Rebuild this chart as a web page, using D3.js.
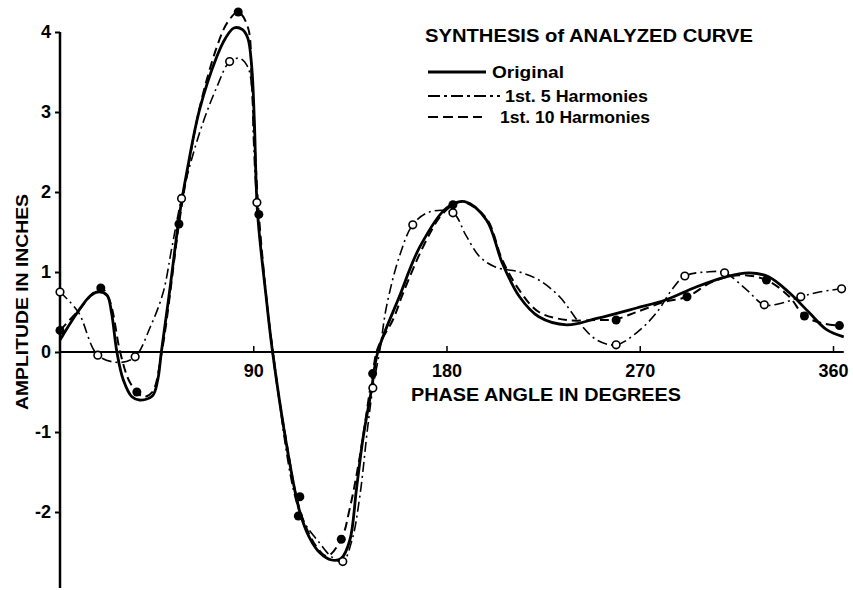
<!DOCTYPE html>
<html><head><meta charset="utf-8">
<script src="https://cdn.jsdelivr.net/npm/d3@7"></script>
<style>
html,body{margin:0;padding:0;background:#fff;}
svg{display:block;}
text{font-family:"Liberation Sans","DejaVu Sans",Arial,sans-serif;font-weight:bold;fill:#000;}
</style></head>
<body>
<svg id="chart" width="853" height="590"></svg>
<script>
// ---- data ----
const title = "SYNTHESIS of ANALYZED CURVE";
const xTitle = "PHASE ANGLE IN DEGREES";
const yTitle = "AMPLITUDE IN INCHES";
const xTicks = [90, 180, 270, 360];
const yTicks = [-2, -1, 0, 1, 2, 3, 4];
const legendLabels = ["Original", "1st. 5 Harmonies", "1st. 10 Harmonies"];

const origDeg = [0, 8, 14, 17.7, 21.9, 24, 26.5, 29.5, 33.5, 37, 43, 45.5, 47.2, 51, 55.8, 59, 65, 73, 77, 81, 85, 87.5, 89.3, 90.5, 92, 96, 99, 107, 111.7, 116, 121, 126.5, 131, 135, 138, 141, 145, 148, 158, 167.5, 180, 188.5, 198.6, 206, 214, 223, 236, 250, 268.5, 282, 296, 310, 321, 330, 339.7, 349, 357, 365];
const origVal = [0.15, 0.49, 0.7, 0.75, 0.71, 0.49, 0, -0.35, -0.56, -0.6, -0.55, -0.35, 0, 0.75, 1.74, 2.24, 3.03, 3.69, 3.92, 4.05, 4.03, 3.92, 3.56, 2.9, 1.74, 0.69, 0, -1.39, -2.0, -2.31, -2.51, -2.6, -2.58, -2.35, -1.73, -1.1, -0.48, 0, 0.69, 1.31, 1.8, 1.88, 1.65, 1.11, 0.69, 0.44, 0.34, 0.42, 0.55, 0.65, 0.81, 0.94, 0.99, 0.94, 0.74, 0.49, 0.28, 0.19];

const h5Deg = [0, 8.5, 17.6, 28, 35, 42, 48, 52, 56.6, 65, 73, 79, 83.8, 87.5, 89.3, 90, 91.7, 99, 112, 121, 126.5, 131.7, 136, 139.6, 143.3, 145.7, 149, 152, 158, 164.3, 172, 183, 189, 195.5, 203, 214, 223, 232.7, 242, 250, 259, 268.5, 277.8, 285, 291, 301, 309.5, 319.7, 328, 336, 345, 353.6, 364];
const h5Val = [0.75, 0.5, -0.04, -0.13, -0.06, 0.31, 0.74, 1.29, 1.92, 2.74, 3.31, 3.63, 3.67, 3.56, 3.31, 2.74, 1.87, 0.05, -2.03, -2.39, -2.56, -2.62, -2.35, -1.81, -0.94, -0.45, 0.03, 0.56, 1.19, 1.59, 1.75, 1.74, 1.46, 1.19, 1.06, 1.0, 0.9, 0.69, 0.36, 0.15, 0.09, 0.24, 0.49, 0.78, 0.95, 1.0, 0.99, 0.78, 0.59, 0.61, 0.69, 0.75, 0.79];
const h5MarkDeg = [0, 17.6, 35, 56.6, 79, 91.7, 131.7, 145.7, 164.3, 183, 259, 291, 309.5, 328, 345, 364];
const h5MarkVal = [0.75, -0.04, -0.06, 1.92, 3.63, 1.87, -2.62, -0.45, 1.59, 1.74, 0.09, 0.95, 0.99, 0.59, 0.69, 0.79];

const h10Deg = [0, 8, 19, 23, 28, 32, 35.8, 39, 43, 47.4, 55.4, 59, 65, 73, 78, 83, 87.5, 89.3, 92.6, 99, 105, 112, 119.6, 124.5, 131, 135, 139.6, 145.6, 148, 155, 160, 169, 177, 183, 187.5, 198.6, 206, 214, 223, 236, 250, 259, 268.5, 282, 292, 304, 316.4, 329, 339.7, 346.7, 355, 363];
const h10Val = [0.27, 0.5, 0.8, 0.65, 0, -0.35, -0.5, -0.56, -0.5, 0, 1.6, 2.2, 3.05, 3.81, 4.12, 4.25, 4.06, 3.36, 1.72, 0, -1.05, -2.0, -2.44, -2.55, -2.34, -1.95, -1.31, -0.27, 0.05, 0.4, 0.75, 1.31, 1.69, 1.84, 1.88, 1.67, 1.15, 0.77, 0.5, 0.4, 0.4, 0.41, 0.5, 0.63, 0.69, 0.88, 0.96, 0.9, 0.69, 0.45, 0.36, 0.33];
const h10MarkDeg = [0, 19, 35.8, 55.4, 83, 92.6, 111.7, 111, 131, 145.6, 183, 259, 292, 329, 346.7, 363];
const h10MarkVal = [0.27, 0.8, -0.5, 1.6, 4.25, 1.72, -1.81, -2.05, -2.34, -0.27, 1.84, 0.4, 0.69, 0.9, 0.45, 0.33];

// ---- drawing ----
const svg = d3.select("#chart");
const x = d3.scaleLinear().domain([0, 360]).range([60, 833]);
const y = d3.scaleLinear().domain([-2, 4]).range([512, 32]);

// y axis line
svg.append("line").attr("x1", x(0)).attr("x2", x(0))
  .attr("y1", y(4)).attr("y2", y(-2.95))
  .attr("stroke", "#000").attr("stroke-width", 2.5);
// zero line
svg.append("line").attr("x1", x(0)).attr("x2", x(365))
  .attr("y1", y(0)).attr("y2", y(0))
  .attr("stroke", "#000").attr("stroke-width", 2);

// y ticks
const yAxis = d3.axisLeft(y).tickValues(yTicks).tickSize(5).tickPadding(4)
  .tickFormat(d => d < 0 ? "-" + Math.abs(d) : d);
const gy = svg.append("g").attr("transform", `translate(${x(0)},0)`).call(yAxis);
gy.select(".domain").remove();
gy.selectAll(".tick line").attr("stroke", "#000").attr("stroke-width", 2);
gy.selectAll(".tick text").attr("font-size", 18).attr("font-family", "Liberation Sans, sans-serif")
  .attr("font-weight", "bold").attr("fill", "#000");

// x ticks
const xAxis = d3.axisTop(x).tickValues(xTicks).tickSize(6).tickFormat(d => d);
const gx = svg.append("g").attr("transform", `translate(0,${y(0)})`).call(xAxis);
gx.select(".domain").remove();
gx.selectAll(".tick line").attr("stroke", "#000").attr("stroke-width", 1.5);
gx.selectAll(".tick text").attr("y", 25).attr("dy", 0).attr("font-size", 18)
  .attr("font-family", "Liberation Sans, sans-serif").attr("font-weight", "bold").attr("fill", "#000");

// axis titles
svg.append("text").attr("x", 411).attr("y", 401).attr("font-size", 18)
  .attr("textLength", 270).attr("lengthAdjust", "spacingAndGlyphs").text(xTitle);
svg.append("text").attr("transform", "translate(28,410) rotate(-90)")
  .attr("font-size", 17).attr("textLength", 216).attr("lengthAdjust", "spacingAndGlyphs").text(yTitle);

// title
svg.append("text").attr("x", 425).attr("y", 42).attr("font-size", 18)
  .attr("textLength", 328).attr("lengthAdjust", "spacingAndGlyphs").text(title);

// lines
const line = d3.line().curve(d3.curveCatmullRom.alpha(0.5));
const series = [
  {deg: origDeg, val: origVal, w: 2.8, dash: null},
  {deg: h10Deg, val: h10Val, w: 2, dash: "9,5"},
  {deg: h5Deg, val: h5Val, w: 1.6, dash: "10,4,2,4"}
];
series.forEach(s => {
  svg.append("path")
    .attr("d", line(s.deg.map((d, i) => [x(d), y(s.val[i])])))
    .attr("fill", "none").attr("stroke", "#000").attr("stroke-width", s.w)
    .attr("stroke-dasharray", s.dash).attr("stroke-linejoin", "round");
});

// markers
svg.selectAll("circle.h10").data(h10MarkDeg).enter().append("circle")
  .attr("cx", d => x(d)).attr("cy", (d, i) => y(h10MarkVal[i])).attr("r", 4.5)
  .attr("fill", "#000");
svg.selectAll("circle.h5").data(h5MarkDeg).enter().append("circle")
  .attr("cx", d => x(d)).attr("cy", (d, i) => y(h5MarkVal[i])).attr("r", 3.8)
  .attr("fill", "#fff").attr("stroke", "#000").attr("stroke-width", 1.6);

// legend
const legY = [72, 96, 117];
const legX2 = [486, 500, 482];
const legTx = [492, 505, 500];
const legW = [2.8, 2, 2];
const legDash = [null, "12,4,3,4", "10,5"];
const legLen = [72, 143, 150];
legendLabels.forEach((lab, i) => {
  svg.append("line").attr("x1", 428).attr("x2", legX2[i]).attr("y1", legY[i]).attr("y2", legY[i])
    .attr("stroke", "#000").attr("stroke-width", legW[i]).attr("stroke-dasharray", legDash[i]);
  svg.append("text").attr("x", legTx[i]).attr("y", legY[i] + 6).attr("font-size", 17)
    .attr("textLength", legLen[i]).attr("lengthAdjust", "spacingAndGlyphs").text(lab);
});
</script>
</body></html>
